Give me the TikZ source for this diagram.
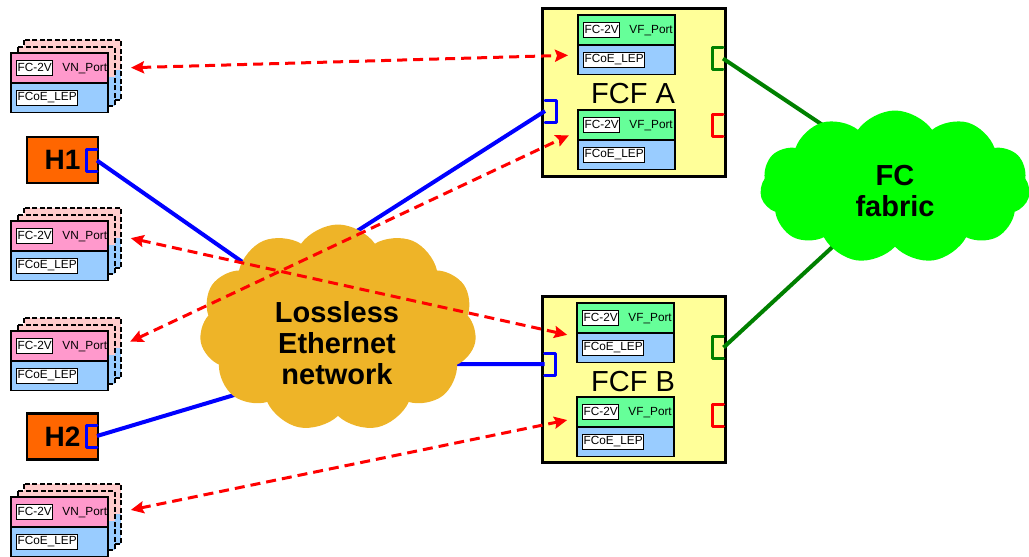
\documentclass[tikz,border=0pt]{standalone}
\usepackage{fontspec}
\setmainfont{Liberation Sans}
\usepackage{tikz}
\usetikzlibrary{arrows.meta,positioning,shapes.symbols}

\definecolor{fcfyellow}{RGB}{255,255,153}
\definecolor{vnpink}{RGB}{255,153,204}
\definecolor{backpink}{RGB}{255,204,204}
\definecolor{lepblue}{RGB}{153,204,255}
\definecolor{vfgreen}{RGB}{102,255,153}
\definecolor{hostorange}{RGB}{255,102,0}
\definecolor{langold}{RGB}{238,180,40}
\definecolor{fabricgreen}{RGB}{0,255,0}
\definecolor{linkgreen}{RGB}{0,128,0}

\tikzset{
  toppart/.style={draw=black, line width=1.5pt, anchor=north west, minimum width=97pt, minimum height=30pt, inner sep=0pt, outer sep=0pt},
  lowpart/.style={toppart, fill=lepblue, minimum height=29.5pt},
  tag/.style={draw=black, line width=0.8pt, fill=white, font=\fontsize{11.8}{13}\selectfont, text height=8.6pt, text depth=2.2pt, inner xsep=1.2pt, inner ysep=2pt},
  tagtext/.style={font=\fontsize{11.8}{13}\selectfont, text height=8.6pt, text depth=2.2pt, inner sep=0pt},
  fcfbox/.style={draw=black, line width=3pt, fill=fcfyellow, minimum width=183pt, inner sep=0pt},
  fcfname/.style={font=\fontsize{29}{31}\selectfont, inner sep=0pt},
  host/.style={draw=black, line width=2.5pt, fill=hostorange, minimum width=71pt, minimum height=46pt, inner sep=0pt, font=\fontsize{28}{30}\selectfont\bfseries},
  portbox/.style={minimum width=11pt, minimum height=22pt, inner sep=0pt, outer sep=0pt},
  portline/.style={line width=3pt, line cap=round, line join=round},
  lan/.style={line width=4pt, blue},
  fcl/.style={line width=4pt, linkgreen},
  vlink/.style={red, line width=3pt, dash pattern=on 10pt off 6pt, shorten <=10pt, shorten >=10pt, {Stealth[length=13pt,width=12pt,inset=2pt]}-{Stealth[length=13pt,width=12pt,inset=2pt]}},
  netcloud/.style={cloud, cloud puffs=11, cloud puff arc=110, cloud ignores aspect, inner sep=0pt},
  cloudtext/.style={align=center, inner sep=0pt, font=\fontsize{29}{31}\selectfont\bfseries},
}

% two part port box: name (x,y) fill label
\def\lepbox#1(#2,#3)#4#5{%
  \node[toppart, fill=#4] (#1) at (#2,#3) {};
  \node[lowpart, below=0pt of #1] (#1-lep) {};
  \node[tag, right=5pt of #1.west] (#1-fc) {FC-2V};
  \node[tagtext, right=9pt of #1-fc] (#1-port) {#5};
  \node[tag, right=5pt of #1-lep.west] (#1-tag) {FCoE\_LEP};
}
% dashed card behind a stack
\def\backcard(#1,#2){%
  \fill[backpink] (#1,#2) rectangle (#1+97,#2+30);
  \fill[lepblue] (#1,#2+30) rectangle (#1+97,#2+59.5);
  \draw[black, line width=2pt, dash pattern=on 5pt off 2.5pt] (#1,#2) rectangle (#1+97,#2+59.5);
}
\def\vnstack#1(#2,#3){%
  \backcard(#2+13,#3-13)
  \backcard(#2+6.5,#3-6.5)
  \lepbox#1(#2,#3){vnpink}{VN\_Port}
}
% ports: open to the right / open to the left
\def\portR#1#2(#3,#4){%
  \node[portbox] (#1) at (#3,#4) {};
  \draw[portline, #2] (#1.north east) -- (#1.north west) -- (#1.south west) -- (#1.south east);
}
\def\portL#1#2(#3,#4){%
  \node[portbox] (#1) at (#3,#4) {};
  \draw[portline, #2] (#1.north west) -- (#1.north east) -- (#1.south east) -- (#1.south west);
}

\begin{document}
\begin{tikzpicture}[x=1pt, y=-1pt]
			%%%%% START %%%%%
			\useasboundingbox (0,0) rectangle (1029,557);
			
			\node[fcfbox, minimum height=168pt] (fcfA) at (633.5,92) {};
			\node[fcfbox, minimum height=166pt] (fcfB) at (633.5,379) {};
			\node[fcfname] (fcfAname) at (633,94) {FCF A};
			\node[fcfname] (fcfBname) at (633,382) {FCF B};
			
			\lepbox a1(578,15){vfgreen}{VF\_Port}
			\lepbox a2(578,110){vfgreen}{VF\_Port}
			\lepbox b1(577,303){vfgreen}{VF\_Port}
			\lepbox b2(577,397){vfgreen}{VF\_Port}
			
			\vnstack s1(11,53)
			\vnstack s2(11,221)
			\vnstack s3(11,331)
			\vnstack s4(11,497)
			
			\node[host] (h1) at (62.5,160) {H1};
			\node[host] (h2) at (62.5,436.5) {H2};
			
			\portR{h1p}{blue}(91.5,160.5)
			\portR{h2p}{blue}(91.5,436)
			\portL{ap}{blue}(550.5,111)
			\portL{bp}{blue}(550,364)
			\portR{agp}{linkgreen}(717.5,58.5)
			\portR{arp}{red}(717.5,125)
			\portR{bgp}{linkgreen}(718,347.5)
			\portR{brp}{red}(718,415)
			
			\coordinate (lanA) at (274,284);
			\coordinate (lanB) at (338,364);
			\coordinate (fab) at (905,180);
			
			\draw[lan] (h1p.east) -- (lanA) -- (ap.west);
			\draw[lan] (h2p.east) -- (lanB) -- (bp.west);
			\draw[fcl] (agp.east) -- (fab) -- (bgp.east);
			
			\node[netcloud, fill=langold, minimum width=277pt, minimum height=207pt] (lan) at (338,328) {};
			\node[cloudtext] (lantext) at (337,343) {Lossless\\Ethernet\\network};
			\node[netcloud, fill=fabricgreen, minimum width=270pt, minimum height=153pt] (fabric) at (895,187) {};
			\node[cloudtext] (fabrictext) at (895,191) {FC\\fabric};
			
			\draw[vlink] ([xshift=13pt]s1.east) -- ([yshift=-10pt]a1.south west);
			\draw[vlink] ([xshift=13pt]s2.east) -- ([yshift=-4pt]b1.south west);
			\draw[vlink] ([xshift=13pt]s3.east) -- ([yshift=9pt]a2.south west);
			\draw[vlink] ([xshift=13pt]s4.east) -- ([yshift=9pt]b2.south west);
			
			%%%%% END %%%%%
		\end{tikzpicture}
\end{document}
